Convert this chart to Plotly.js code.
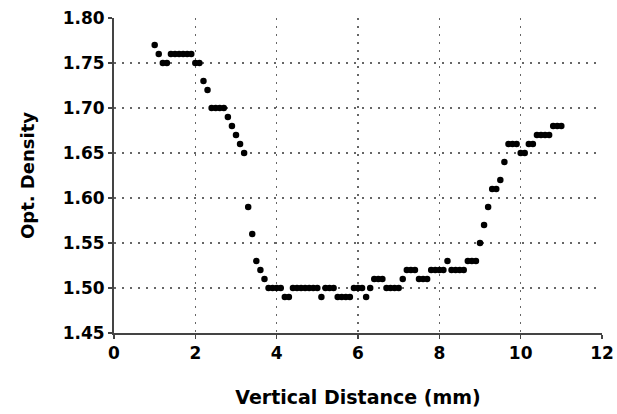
<!DOCTYPE html>
<html>
<head>
<meta charset="utf-8">
<script src="https://cdn.plot.ly/plotly-3.0.1.min.js"></script>
<style>html,body{margin:0;padding:0;background:#fff;}#chart{width:617px;height:414px;}</style>
</head>
<body>
<div id="chart"></div>
<script>
// Vertical distance (mm)
var distance = [
  1.0, 1.1, 1.2, 1.3, 1.4, 1.5, 1.6, 1.7, 1.8, 1.9,
  2.0, 2.1, 2.2, 2.3, 2.4, 2.5, 2.6, 2.7, 2.8, 2.9,
  3.0, 3.1, 3.2, 3.3, 3.4, 3.5, 3.6, 3.7, 3.8, 3.9,
  4.0, 4.1, 4.2, 4.3, 4.4, 4.5, 4.6, 4.7, 4.8, 4.9,
  5.0, 5.1, 5.2, 5.3, 5.4, 5.5, 5.6, 5.7, 5.8, 5.9,
  6.0, 6.1, 6.2, 6.3, 6.4, 6.5, 6.6, 6.7, 6.8, 6.9,
  7.0, 7.1, 7.2, 7.3, 7.4, 7.5, 7.6, 7.7, 7.8, 7.9,
  8.0, 8.1, 8.2, 8.3, 8.4, 8.5, 8.6, 8.7, 8.8, 8.9,
  9.0, 9.1, 9.2, 9.3, 9.4, 9.5, 9.6, 9.7, 9.8, 9.9,
  10.0, 10.1, 10.2, 10.3, 10.4, 10.5, 10.6, 10.7, 10.8, 10.9,
  11.0
];
// Optical density
var density = [
  1.77, 1.76, 1.75, 1.75, 1.76, 1.76, 1.76, 1.76, 1.76, 1.76,
  1.75, 1.75, 1.73, 1.72, 1.70, 1.70, 1.70, 1.70, 1.69, 1.68,
  1.67, 1.66, 1.65, 1.59, 1.56, 1.53, 1.52, 1.51, 1.50, 1.50,
  1.50, 1.50, 1.49, 1.49, 1.50, 1.50, 1.50, 1.50, 1.50, 1.50,
  1.50, 1.49, 1.50, 1.50, 1.50, 1.49, 1.49, 1.49, 1.49, 1.50,
  1.50, 1.50, 1.49, 1.50, 1.51, 1.51, 1.51, 1.50, 1.50, 1.50,
  1.50, 1.51, 1.52, 1.52, 1.52, 1.51, 1.51, 1.51, 1.52, 1.52,
  1.52, 1.52, 1.53, 1.52, 1.52, 1.52, 1.52, 1.53, 1.53, 1.53,
  1.55, 1.57, 1.59, 1.61, 1.61, 1.62, 1.64, 1.66, 1.66, 1.66,
  1.65, 1.65, 1.66, 1.66, 1.67, 1.67, 1.67, 1.67, 1.68, 1.68,
  1.68
];
var xTicks = [0, 2, 4, 6, 8, 10, 12];
var xTickText = ["0", "2", "4", "6", "8", "10", "12"];
var yTicks = [1.45, 1.50, 1.55, 1.60, 1.65, 1.70, 1.75, 1.80];
var yTickText = ["1.45", "1.50", "1.55", "1.60", "1.65", "1.70", "1.75", "1.80"];

var font = "DejaVu Sans, Arial, sans-serif";

var trace = {
  x: distance,
  y: density,
  type: "scatter",
  mode: "markers",
  marker: {color: "#000", size: 6.5, line: {width: 0}},
  hoverinfo: "skip"
};

var layout = {
  width: 617,
  height: 414,
  margin: {l: 114, r: 15, t: 18, b: 81},
  paper_bgcolor: "#fff",
  plot_bgcolor: "#fff",
  showlegend: false,
  xaxis: {
    range: [0, 12],
    tickmode: "array",
    tickvals: xTicks,
    ticktext: xTickText,
    showgrid: true,
    gridcolor: "#666",
    gridwidth: 1.5,
    griddash: "2px,6px",
    showline: true,
    linecolor: "#444",
    linewidth: 2,
    ticks: "outside",
    ticklen: 4,
    tickwidth: 1.5,
    tickcolor: "#444",
    zeroline: false,
    tickfont: {family: font, size: 17, color: "#000", weight: "bold"},
    title: {text: "<b>Vertical Distance (mm)</b>", font: {family: font, size: 19, color: "#000"}, standoff: 28}
  },
  yaxis: {
    range: [1.45, 1.80],
    tickmode: "array",
    tickvals: yTicks,
    ticktext: yTickText,
    showgrid: true,
    gridcolor: "#666",
    gridwidth: 1.5,
    griddash: "2px,6px",
    showline: true,
    linecolor: "#444",
    linewidth: 2,
    ticks: "outside",
    ticklen: 4,
    tickwidth: 1.5,
    tickcolor: "#444",
    zeroline: false,
    tickfont: {family: font, size: 17, color: "#000", weight: "bold"},
    title: {text: "<b>Opt. Density</b>", font: {family: font, size: 18, color: "#000"}, standoff: 23}
  }
};

Plotly.newPlot("chart", [trace], layout, {staticPlot: true, displayModeBar: false});
</script>
</body>
</html>
